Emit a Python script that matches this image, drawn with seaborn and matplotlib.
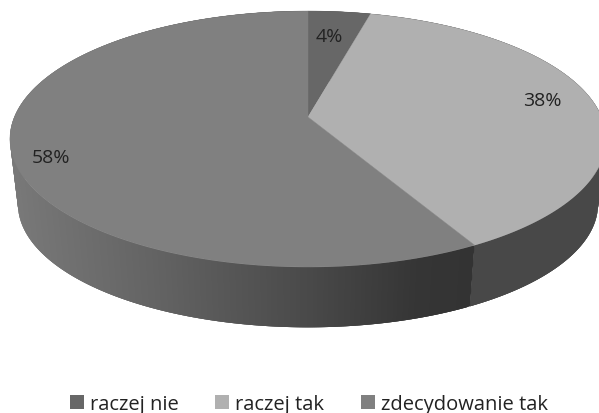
import numpy as np
import seaborn as sns
import matplotlib
matplotlib.use('Agg')
import matplotlib.pyplot as plt
from matplotlib.patches import Patch

categories = ['raczej nie', 'raczej tak', 'zdecydowanie tak']
shares = [4, 38, 58]
share_labels = ['4%', '38%', '58%']

top_colors = ['#676767', '#b0b0b0', '#808080']
label_pos = [(329, 37), (542, 101), (51, 158)]

sns.set_theme(style='white')
plt.rcParams['font.family'] = ['Open Sans', 'DejaVu Sans']


# circle on the table -> screen, with a bit of perspective
def project(theta, vertex_y, a, b, k=0.172):
    u, v = np.sin(theta), np.cos(theta)
    return 308 + b * u / (1 + k * v), vertex_y - a * v / (1 + k * v)


def top_edge(theta):
    return project(theta, 118, 124.2, 293.6)


def bottom_edge(theta):
    return project(theta, 184, 119.5, 285.7)


def side_shade(x, idx):
    # light comes from the left on the big slice, the others stay flat
    if idx == 2:
        g = np.interp(x, [15, 150, 300, 420, 476], [0x78, 0x64, 0x4b, 0x35, 0x33])
    elif idx == 1:
        g = 0x48
    else:
        g = 0x55
    return (g / 255, g / 255, g / 255)


fig = plt.figure(figsize=(5.99, 4.14), dpi=100)
ax = fig.add_axes([0, 0, 1, 1])
ax.set_xlim(0, 599)
ax.set_ylim(414, 0)
ax.axis('off')

edges = 2 * np.pi * np.concatenate([[0], np.cumsum(shares)]) / sum(shares)

# walls first, the top goes over them. each strip runs into the next so no seams show
step = 0.006
for i in range(len(shares)):
    n = max(int((edges[i + 1] - edges[i]) / step), 2)
    angles = np.linspace(edges[i], edges[i + 1], n)
    for j, t0 in enumerate(angles[:-1]):
        t1 = angles[min(j + 3, n - 1)]
        x0, y0 = top_edge(t0)
        x1, y1 = top_edge(t1)
        x2, y2 = bottom_edge(t1)
        x3, y3 = bottom_edge(t0)
        c = side_shade(x0, i)
        ax.fill([x0, x1, x2, x3], [y0, y1, y2, y3], color=c, lw=0)

for i in range(len(shares)):
    angles = np.linspace(edges[i], edges[i + 1], 200)
    xs, ys = top_edge(angles)
    ax.fill(np.r_[308, xs], np.r_[118, ys], color=top_colors[i], lw=0.3)

for lab, (x, y) in zip(share_labels, label_pos):
    ax.text(x, y, lab, ha='center', va='center', fontsize=14, color='#222222')

handles = [Patch(facecolor=c, edgecolor='none') for c in top_colors]
ax.legend(handles, categories, loc='center', bbox_to_anchor=(309 / 599, 1 - 405 / 414), ncol=3,
          frameon=False, fontsize=14.5, handlelength=0.7, handleheight=0.7, handletextpad=0.3,
          columnspacing=1.8, labelcolor='#222222')

fig.savefig('out.png', dpi=100)
